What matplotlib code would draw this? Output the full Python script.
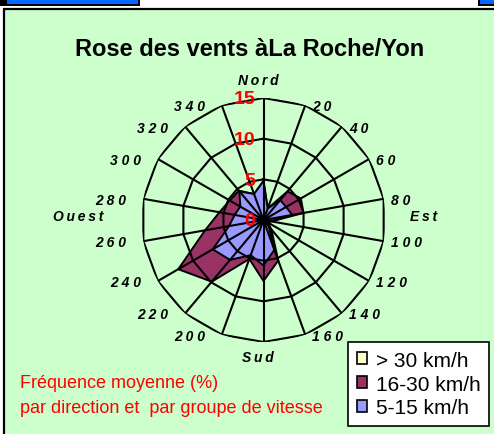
import numpy as np
import matplotlib
matplotlib.use("Agg")
import matplotlib.pyplot as plt
from matplotlib.patches import Rectangle, Patch

# ---------------- data ----------------
directions = [0, 20, 40, 60, 80, 100, 120, 140, 160, 180, 200, 220, 240, 260, 280, 300, 320, 340]
dir_labels = ["N\u2009o\u2009r\u2009d", "2 0", "4 0", "6 0", "8 0", "1 0 0", "1 2 0", "1 4 0", "1 6 0",
              "S\u2009u\u2009d", "2 0 0", "2 2 0", "2 4 0", "2 6 0", "2 8 0", "3 0 0", "3 2 0", "3 4 0"]
speed_over_30 = [0.2, 0.1, 0.2, 0.3, 0.2, 0.1, 0.1, 0.1, 0.2, 0.3, 0.2, 0.4, 0.5, 0.3, 0.2, 0.2, 0.2, 0.2]
speed_16_30 = [4.8, 1.5, 4.6, 5.3, 5.0, 1.0, 0.6, 1.5, 5.3, 7.5, 5.1, 9.9, 12.1, 7.3, 5.5, 4.8, 4.7, 3.4]
speed_5_15 = [4.8, 1.5, 3.2, 3.2, 3.6, 0.8, 0.5, 1.0, 3.9, 5.6, 4.6, 6.4, 7.2, 4.3, 3.6, 3.3, 4.6, 3.4]
series_names = ["> 30 km/h", "16-30 km/h", "5-15 km/h"]
series_colors = ["#FFFFCC", "#993366", "#9999FF"]
ring_values = [0, 5, 10, 15]

W, H = 494, 435
fig = plt.figure(figsize=(W / 100, H / 100), dpi=100)
fig.patch.set_facecolor("white")
FONT = ["Liberation Sans", "DejaVu Sans"]


def px_rect(x0, y0, x1, y1, **kw):
    r = Rectangle((x0 / W, 1 - y1 / H), (x1 - x0) / W, (y1 - y0) / H,
                  transform=fig.transFigure, zorder=0, **kw)
    fig.patches.append(r)


# decorative header strips
px_rect(0, 0, 140, 7, facecolor="black", edgecolor="none")
px_rect(7, 0, 138, 4.5, facecolor="#0066FF", edgecolor="none")
px_rect(478, 0, 494, 7, facecolor="black", edgecolor="none")
px_rect(480, 0, 494, 4.5, facecolor="#0066FF", edgecolor="none")
# green panel
px_rect(3.5, 10, 520, 460, facecolor="#CCFFCC", edgecolor="black", linewidth=1.6)

# title
fig.text(250 / W, 1 - 49 / H, "Rose des vents àLa Roche/Yon", ha="center", va="center",
         fontsize=17, fontweight="bold", family=FONT)

# polar axes
cx, cy, R = 263.5, 221, 122
ax = fig.add_axes([(cx - R) / W, 1 - (cy + R) / H, 2 * R / W, 2 * R / H], projection="polar")
ax.set_zorder(5)
ax.set_theta_zero_location("N")
ax.set_theta_direction(-1)
ax.set_ylim(0, 15)
ax.set_axis_off()

theta = np.deg2rad(directions)
theta_c = np.append(theta, theta[0])

for vals, col, z in zip([speed_over_30, speed_16_30, speed_5_15], series_colors, [2, 3, 4]):
    ax.fill(theta_c, np.append(vals, vals[0]), facecolor=col, edgecolor="black",
            linewidth=1.4, zorder=z)

for v in ring_values[1:]:
    ax.plot(theta_c, [v] * len(theta_c), color="black", lw=1.5, zorder=6)
for th in theta:
    ax.plot([th, th], [0, 15], color="black", lw=1.5, zorder=6)

# value labels
for v in ring_values:
    ax.annotate(str(v), xy=(0, v), xytext=(-8.5, -1), textcoords="offset pixels",
                ha="right", va="center", color="red", fontsize=14, fontweight="bold",
                family=FONT, zorder=8, annotation_clip=False)

# direction labels
for d, lab in zip(directions, dir_labels):
    th = np.deg2rad(d)
    if d == 0:
        off, ha = (-5.5, 18), "center"
    elif d == 180:
        off, ha = (-5.5, -15), "center"
    elif d < 180:
        off, ha = (7, -1), "left"
    else:
        off, ha = (-17, -1), "right"
    ax.annotate(lab, xy=(th, 15), xytext=off, textcoords="offset pixels", ha=ha, va="center",
                fontsize=10, fontweight="bold", fontstyle="italic", family=FONT,
                annotation_clip=False)

ax.annotate("E\u2009s\u2009t", xy=(np.deg2rad(90), 15), xytext=(24.5, 4), textcoords="offset pixels",
            ha="left", va="center", fontsize=10, fontweight="bold", fontstyle="italic",
            family=FONT, annotation_clip=False)
ax.annotate("O\u2009u\u2009e\u2009s\u2009t", xy=(np.deg2rad(270), 15), xytext=(-38.5, 4),
            textcoords="offset pixels", ha="right", va="center", fontsize=10,
            fontweight="bold", fontstyle="italic", family=FONT, annotation_clip=False)

# footnote
fig.text(20 / W, 1 - 384 / H, "Fréquence moyenne (%)", ha="left", va="center",
         fontsize=13, color="red", family=FONT)
fig.text(20 / W, 1 - 409 / H, "par direction et  par groupe de vitesse", ha="left", va="center",
         fontsize=13, color="red", family=FONT)

# legend
handles = [Patch(facecolor=c, edgecolor="black", linewidth=1.2) for c in series_colors]
leg = fig.legend(handles, series_names, loc="upper left",
                 bbox_to_anchor=(348 / W, 1 - 343 / H), bbox_transform=fig.transFigure,
                 frameon=True, fancybox=False, framealpha=1, edgecolor="black",
                 facecolor="white", prop={"family": FONT, "size": 15},
                 handlelength=0.5, handleheight=0.5, handletextpad=0.4,
                 labelspacing=0.23, borderpad=0.42, borderaxespad=0)
leg.get_frame().set_linewidth(1.2)
leg.set_zorder(10)

fig.savefig("out.png", dpi=100)
